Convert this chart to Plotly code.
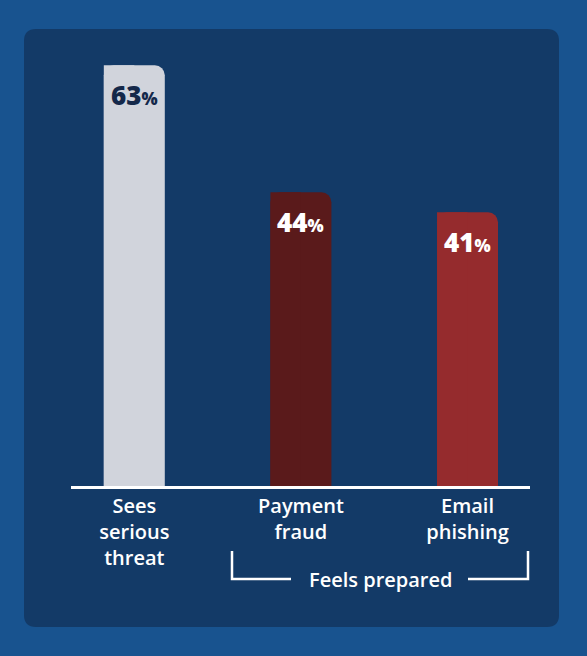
import plotly.graph_objects as go

# chart data
categories = ["Sees<br>serious<br>threat", "Payment<br>fraud", "Email<br>phishing"]
values = [63, 44, 41]
bar_colors = ["#d1d4dc", "#5a1a1b", "#952b2d"]
label_colors = ["#14284a", "#ffffff", "#ffffff"]
group_label = "Feels prepared"

W, H = 587, 656
# plot area in pixels
L, R, T, B = 71, 530, 52, 486

def px_x(x):
    return (x - L) / (R - L)

def px_y(y):
    return (B - y) / (B - T)

BAR_W = 0.366

fig = go.Figure()
# full bar with rounded top corners
fig.add_trace(go.Bar(x=categories, y=values, width=BAR_W,
                     marker=dict(color=bar_colors, cornerradius=10, line=dict(width=0)),
                     hoverinfo="skip"))
# left half without rounding so only the top-right corner is rounded
fig.add_trace(go.Bar(x=categories, y=values, width=BAR_W / 2, offset=-BAR_W / 2,
                     marker=dict(color=bar_colors, line=dict(width=0)),
                     hoverinfo="skip"))

# value labels at the top of each bar
for cat, v, c in zip(categories, values, label_colors):
    fig.add_annotation(x=cat, y=v, yanchor="top", yshift=-10, showarrow=False,
                       text="%d<span style='font-size:17px'>%%</span>" % v,
                       font=dict(family="Open Sans", size=26, color=c, weight=800))

# rounded background panel
x0, x1 = px_x(24), px_x(559)
y0, y1 = px_y(627), px_y(29)
rx, ry = 12 / (R - L), 12 / (B - T)
panel = (f"M {x0 + rx} {y0} L {x1 - rx} {y0} Q {x1} {y0} {x1} {y0 + ry} "
         f"L {x1} {y1 - ry} Q {x1} {y1} {x1 - rx} {y1} "
         f"L {x0 + rx} {y1} Q {x0} {y1} {x0} {y1 - ry} "
         f"L {x0} {y0 + ry} Q {x0} {y0} {x0 + rx} {y0} Z")
fig.add_shape(type="path", path=panel, xref="paper", yref="paper",
              fillcolor="#133a67", line=dict(width=0), layer="below")

# "Feels prepared" bracket
br = dict(color="white", width=2.5)
fig.add_shape(type="path", xref="paper", yref="paper", line=br,
              path=f"M {px_x(232)} {px_y(551)} L {px_x(232)} {px_y(579)} L {px_x(291)} {px_y(579)}")
fig.add_shape(type="path", xref="paper", yref="paper", line=br,
              path=f"M {px_x(468)} {px_y(579)} L {px_x(528)} {px_y(579)} L {px_x(528)} {px_y(551)}")
fig.add_annotation(x=px_x(380), y=px_y(579), xref="paper", yref="paper",
                   xanchor="center", yanchor="middle",
                   text=group_label, showarrow=False,
                   font=dict(family="Open Sans", size=20, color="white", weight=600))

fig.update_layout(
    width=W, height=H,
    margin=dict(l=L, r=W - R, t=T, b=H - B),
    paper_bgcolor="#18538f",
    plot_bgcolor="rgba(0,0,0,0)",
    barmode="overlay",
    showlegend=False,
    font=dict(family="Open Sans", size=20, color="white"),
)
fig.update_xaxes(range=[-0.38, 2.375], showline=True, linecolor="white", linewidth=2.5,
                 ticks="", showgrid=False, zeroline=False,
                 tickfont=dict(family="Open Sans", size=20, color="white", weight=600))
fig.update_yaxes(range=[0, 65], visible=False, showgrid=False, zeroline=False)

# drop the browser's default page margin so the figure fills the window
fig.write_html("out.html", config={"displayModeBar": False},
               post_script="document.body.style.margin='0';")
